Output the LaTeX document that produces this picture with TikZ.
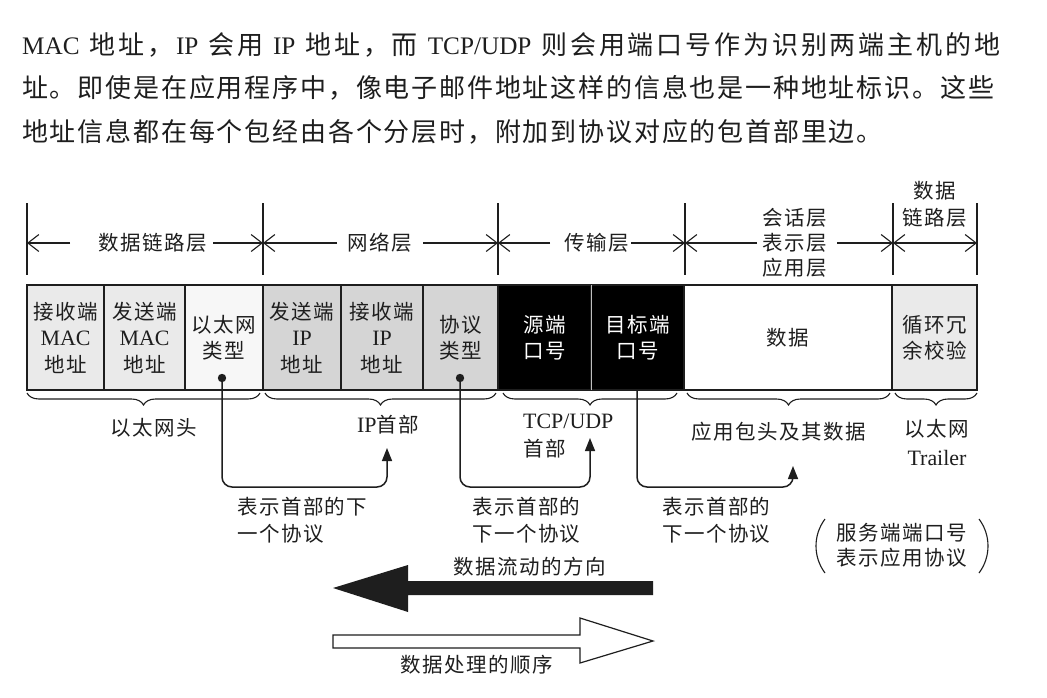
\documentclass[tikz,border=0pt]{standalone}
\usepackage{fontspec}
\setmainfont{Noto Sans CJK SC}
\newfontfamily\cjkd[LetterSpace=7]{Noto Sans CJK SC}
\newfontfamily\cjkt[LetterSpace=7]{Noto Sans CJK SC}
\newfontfamily\latd[Scale=1.07]{Liberation Serif}
\newfontfamily\latt[Scale=0.97]{Liberation Serif}
\usetikzlibrary{arrows.meta,decorations.pathreplacing,calc}
\definecolor{ink}{HTML}{1E1E1E}
\definecolor{lgray}{HTML}{EAEAEA}
\definecolor{wgray}{HTML}{F7F7F7}
\definecolor{mgray}{HTML}{D5D5D5}
\newcommand\dfontb[1]{\cjkd\fontsize{20.5}{#1}\selectfont}
\newcommand\dfont{\dfontb{26.5}}
\newcommand\La[1]{{\latd #1}}
\newcommand\Lt[1]{{\latt #1}}
\newcommand\gq{\hskip 0pt plus 1pt}
\newcommand\sq{\hskip 7pt plus 1pt}
\begin{document}
\begin{tikzpicture}[x=1pt,y=-1pt,
  lab/.style={inner sep=0pt, text=ink, font=\dfont},
  cell/.style={draw=ink, line width=1.2pt, minimum height=105pt, inner sep=0pt, align=center, font=\dfont, text=ink},
  harr/.style={draw=ink, line width=1.1pt, -{Straight Barb[length=11pt,width=17pt,line width=1.1pt]}},
  bar/.style={draw=ink, line width=1.3pt},
  brc/.style={draw=ink, line width=1.1pt, decorate, decoration={brace, mirror, amplitude=12pt}},
  conn/.style={draw=ink, line width=1.5pt, rounded corners=10pt, -{Triangle[length=13pt,width=10pt]}},
  para/.style={anchor=base west, inner sep=0pt, text=ink, font=\cjkt\fontsize{26}{30}\selectfont},
]
\useasboundingbox (0,0) rectangle (1047,697);
\fill[white] (0,0) rectangle (1047,697);

% paragraph
\node[para] (p1) at (22,54.5) {\makebox[978pt][s]{\Lt{MAC}\sq 地\gq 址\gq ，\gq\Lt{IP}\sq 会\gq 用\sq\Lt{IP}\sq 地\gq 址\gq ，\gq 而\sq\Lt{TCP/UDP}\sq 则\gq 会\gq 用\gq 端\gq 口\gq 号\gq 作\gq 为\gq 识\gq 别\gq 两\gq 端\gq 主\gq 机\gq 的\gq 地}};
\node[para] (p2) at (22,97.5) {址。即使是在应用程序中，像电子邮件地址这样的信息也是一种地址标识。这些};
\node[para] (p3) at (22,141.5) {地址信息都在每个包经由各个分层时，附加到协议对应的包首部里边。};

% layer boundaries
\coordinate (b0) at (27,243);
\coordinate (b1) at (263,243);
\coordinate (b2) at (498,243);
\coordinate (b3) at (685,243);
\coordinate (b4) at (893,243);
\coordinate (b5) at (977,243);
\foreach \b in {b0,b1,b2,b3,b4,b5}
  \draw[bar] ($(\b)+(0,-40)$) -- ($(\b)+(0,32)$);

% layer labels
\node[lab] (tDL) at (153,243) {数据链路层};
\node[lab] (tNW) at (380,243) {网络层};
\node[lab] (tTR) at (597,243) {传输层};
\node[lab, align=center, font=\dfontb{25}] (tSS) at (795,243) {会话层\\表示层\\应用层};
\node[lab, align=center, font=\dfontb{27}] (tDT) at (935,204) {数据\\链路层};

\draw[harr] ($(b0)+(43,0)$) -- (b0);
\draw[harr] ($(b1)+(-50,0)$) -- (b1);
\draw[harr] ($(b1)+(74,0)$) -- (b1);
\draw[harr] ($(b2)+(-75,0)$) -- (b2);
\draw[harr] ($(b2)+(52,0)$) -- (b2);
\draw[harr] ($(b3)+(-54,0)$) -- (b3);
\draw[harr] ($(b3)+(72,0)$) -- (b3);
\draw[harr] ($(b4)+(-56,0)$) -- (b4);
\draw[draw=ink, line width=1.1pt, {Straight Barb[length=11pt,width=17pt,line width=1.1pt]}-{Straight Barb[length=11pt,width=17pt,line width=1.1pt]}] (b4) -- (b5);

% cells
\node[cell, fill=lgray, minimum width=77pt] (c1) at (65.5,337.5) {接收端\\\La{MAC}\\地址};
\node[cell, fill=lgray, minimum width=81pt] (c2) at (144.5,337.5) {发送端\\\La{MAC}\\地址};
\node[cell, fill=wgray, minimum width=78pt] (c3) at (224,337.5) {以太网\\类型};
\node[cell, fill=mgray, minimum width=78pt] (c4) at (302,337.5) {发送端\\\La{IP}\\地址};
\node[cell, fill=mgray, minimum width=82pt] (c5) at (382,337.5) {接收端\\\La{IP}\\地址};
\node[cell, fill=mgray, minimum width=75pt] (c6) at (460.5,337.5) {协议\\类型};
\node[cell, fill=black, text=white, minimum width=93pt] (c7) at (544.5,337.5) {源端\\口号};
\node[cell, fill=black, text=white, minimum width=93pt] (c8) at (637.5,337.5) {目标端\\口号};
\node[cell, fill=white, minimum width=208pt] (c9) at (788,337.5) {数据};
\node[cell, fill=lgray, minimum width=85pt] (c10) at (934.5,337.5) {循环冗\\余校验};
\draw[white!75!black, line width=1pt, shorten >=1pt, shorten <=1pt] (c7.north east) -- (c7.south east);

% dots
\coordinate (d1) at (222,378);
\coordinate (d2) at (460,378);
\coordinate (d3) at (637,390);
\fill[ink] (d1) circle (4.2);
\fill[ink] (d2) circle (4.2);

% braces
\draw[brc] (27,393) -- (260,393);
\draw[brc] (265,393) -- (496,393);
\draw[brc] (503,393) -- (677,393);
\draw[brc] (687,393) -- (890,393);
\draw[brc] (895,393) -- (977,393);

\node[lab] (hEth) at (154,428) {以太网头};
\node[lab] (hIP) at (388,425) {\La{IP}首部};
\node[lab, align=left, anchor=west, font=\dfontb{28}] (hTCP) at (523,436) {\La{TCP/UDP}\\首部};
\node[lab] (hApp) at (779,432) {应用包头及其数据};
\node[lab, align=center, font=\dfontb{29}] (hTr) at (937,442) {以太网\\\La{Trailer}};

% connectors
\coordinate (yl) at (0,487);
\coordinate (a1) at (387,448);
\coordinate (a2) at (590,438);
\coordinate (a3) at (793,466);
\draw[conn] (d1) |- (a1 |- yl) -- (a1);
\draw[conn] (d2) |- (a2 |- yl) -- (a2);
\draw[conn] (d3) |- (a3 |- yl) -- (a3);

\node[lab, align=left, anchor=north west] (n1) at (237,497) {表示首部的下\\一个协议};
\node[lab, align=left, anchor=north west] (n2) at (472,497) {表示首部的\\下一个协议};
\node[lab, align=left, anchor=north west] (n3) at (662,497) {表示首部的\\下一个协议};

% note in parentheses
\node[lab, align=left, font=\dfontb{25}] (pn) at (902,545) {服务端端口号\\表示应用协议};
\draw[ink, line width=1.1pt] (825,519) .. controls (813,535) and (813,557) .. (825,573);
\draw[ink, line width=1.1pt] (979,519) .. controls (991,535) and (991,557) .. (979,573);

% big arrows
\fill[ink] (653,581) -- (408,581) -- (408,565) -- (333,588) -- (408,612) -- (408,595) -- (653,595) -- cycle;
\node[lab] (fl) at (530,567) {数据流动的方向};
\filldraw[draw=ink, fill=white, line width=1.2pt] (333,635) -- (580,635) -- (580,618) -- (653,641) -- (580,663) -- (580,648) -- (333,648) -- cycle;
\node[lab] (pr) at (477,665) {数据处理的顺序};
\end{tikzpicture}
\end{document}
